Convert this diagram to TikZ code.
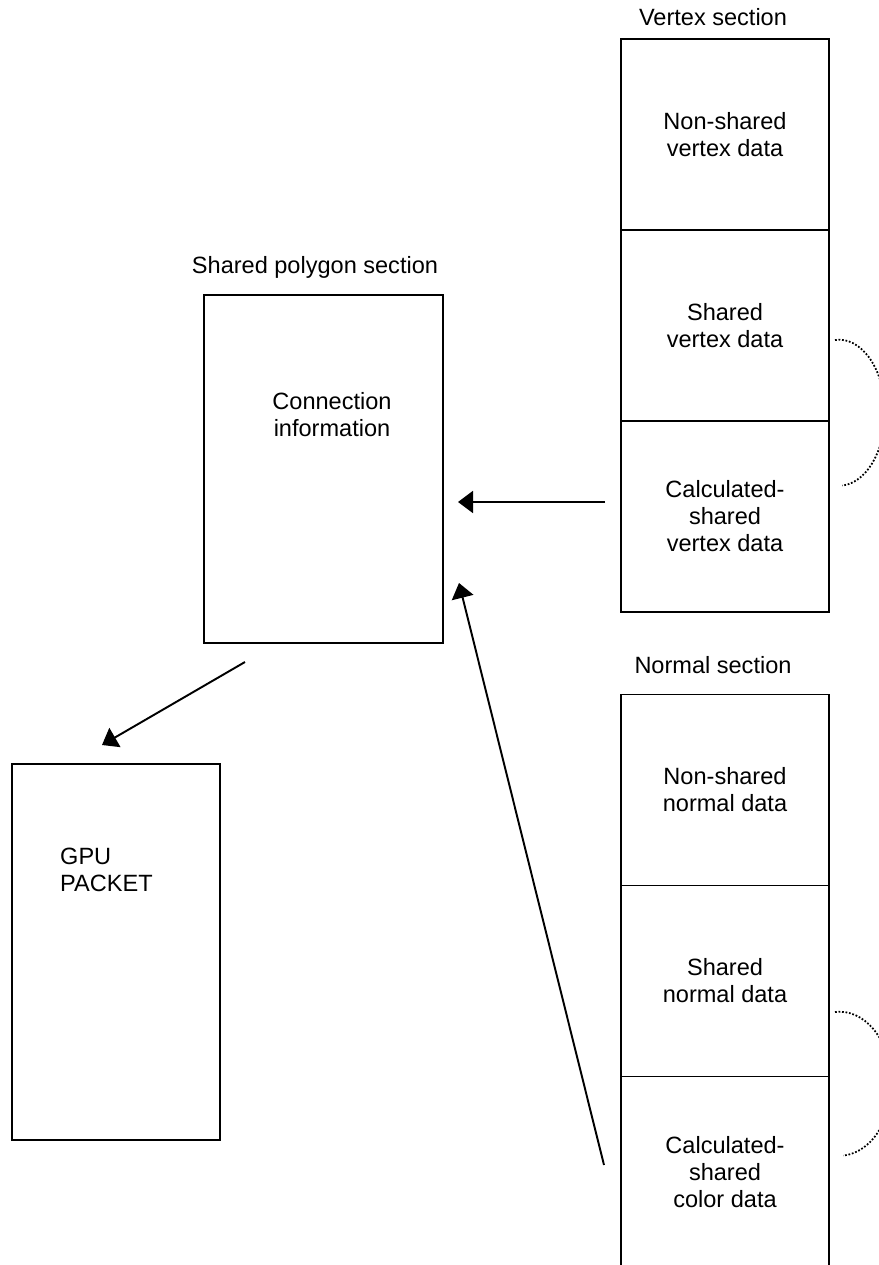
\documentclass[tikz,border=0pt]{standalone}
\usepackage{fontspec}
\setmainfont{Liberation Sans}
\usetikzlibrary{arrows.meta,positioning}

\begin{document}
\begin{tikzpicture}[
  x=0.02cm, y=-0.02cm,
  every node/.style={font=\fontsize{13.4pt}{15.4pt}\selectfont},
  cell/.style={rectangle, draw, line width=1pt, minimum width=4.16cm, minimum height=3.82cm, inner sep=0pt, outer sep=0pt, align=center},
  block/.style={rectangle, draw, line width=1pt, inner sep=0pt, outer sep=0pt},
  title/.style={anchor=base},
  arrow/.style={-{Triangle[length=3mm, width=4.4mm]}, line width=1.1pt},
  loop/.style={densely dotted, line width=1pt}
]
\useasboundingbox (0,0) rectangle (879,1265);
\clip (0,0) rectangle (879,1265);
% vertex section
\node[title] (vtitle) at (713,25) {Vertex section};
\node[cell] (vnon) at (725,134.5) {Non-shared\\vertex data};
\node[cell, below=0pt of vnon] (vsh) {Shared\\vertex data};
\node[cell, below=0pt of vsh] (vcalc) {Calculated-\\shared\\vertex data};
% normal section
\node[title] (ntitle) at (713,673) {Normal section};
\node[cell] (nnon) at (725,790) {Non-shared\\normal data};
\node[cell, below=0pt of nnon] (nsh) {Shared\\normal data};
\node[cell, below=0pt of nsh] (ncalc) {Calculated-\\shared\\color data};
% shared polygon section
\node[title] (ptitle) at (315,273) {Shared polygon section};
\node[block, minimum width=4.78cm, minimum height=6.96cm] (poly) at (323.5,469) {};
\node[align=center] (polytext) at (332,415) {Connection\\information};
% gpu packet
\node[block, minimum width=4.16cm, minimum height=7.52cm] (gpu) at (116,952) {};
\node[align=left, anchor=west] (gputext) at (54,870) {GPU\\PACKET};
% arrows
\coordinate (vfrom) at (605,502);
\coordinate (vto) at (458,502);
\coordinate (gfrom) at (245,662);
\coordinate (gto) at (102,745);
\coordinate (nfrom) at (604,1165);
\coordinate (nto) at (459,583);
\draw[arrow] (vfrom) -- (vto);
\draw[arrow] (gfrom) -- (gto);
\draw[arrow] (nfrom) -- (nto);
% dotted loops
\draw[loop] (835,340) arc[start angle=95, end angle=-86, x radius=0.92cm, y radius=1.46cm];
\draw[loop] (835,1012) arc[start angle=95, end angle=-86, x radius=1.04cm, y radius=1.44cm];
\end{tikzpicture}
\end{document}
